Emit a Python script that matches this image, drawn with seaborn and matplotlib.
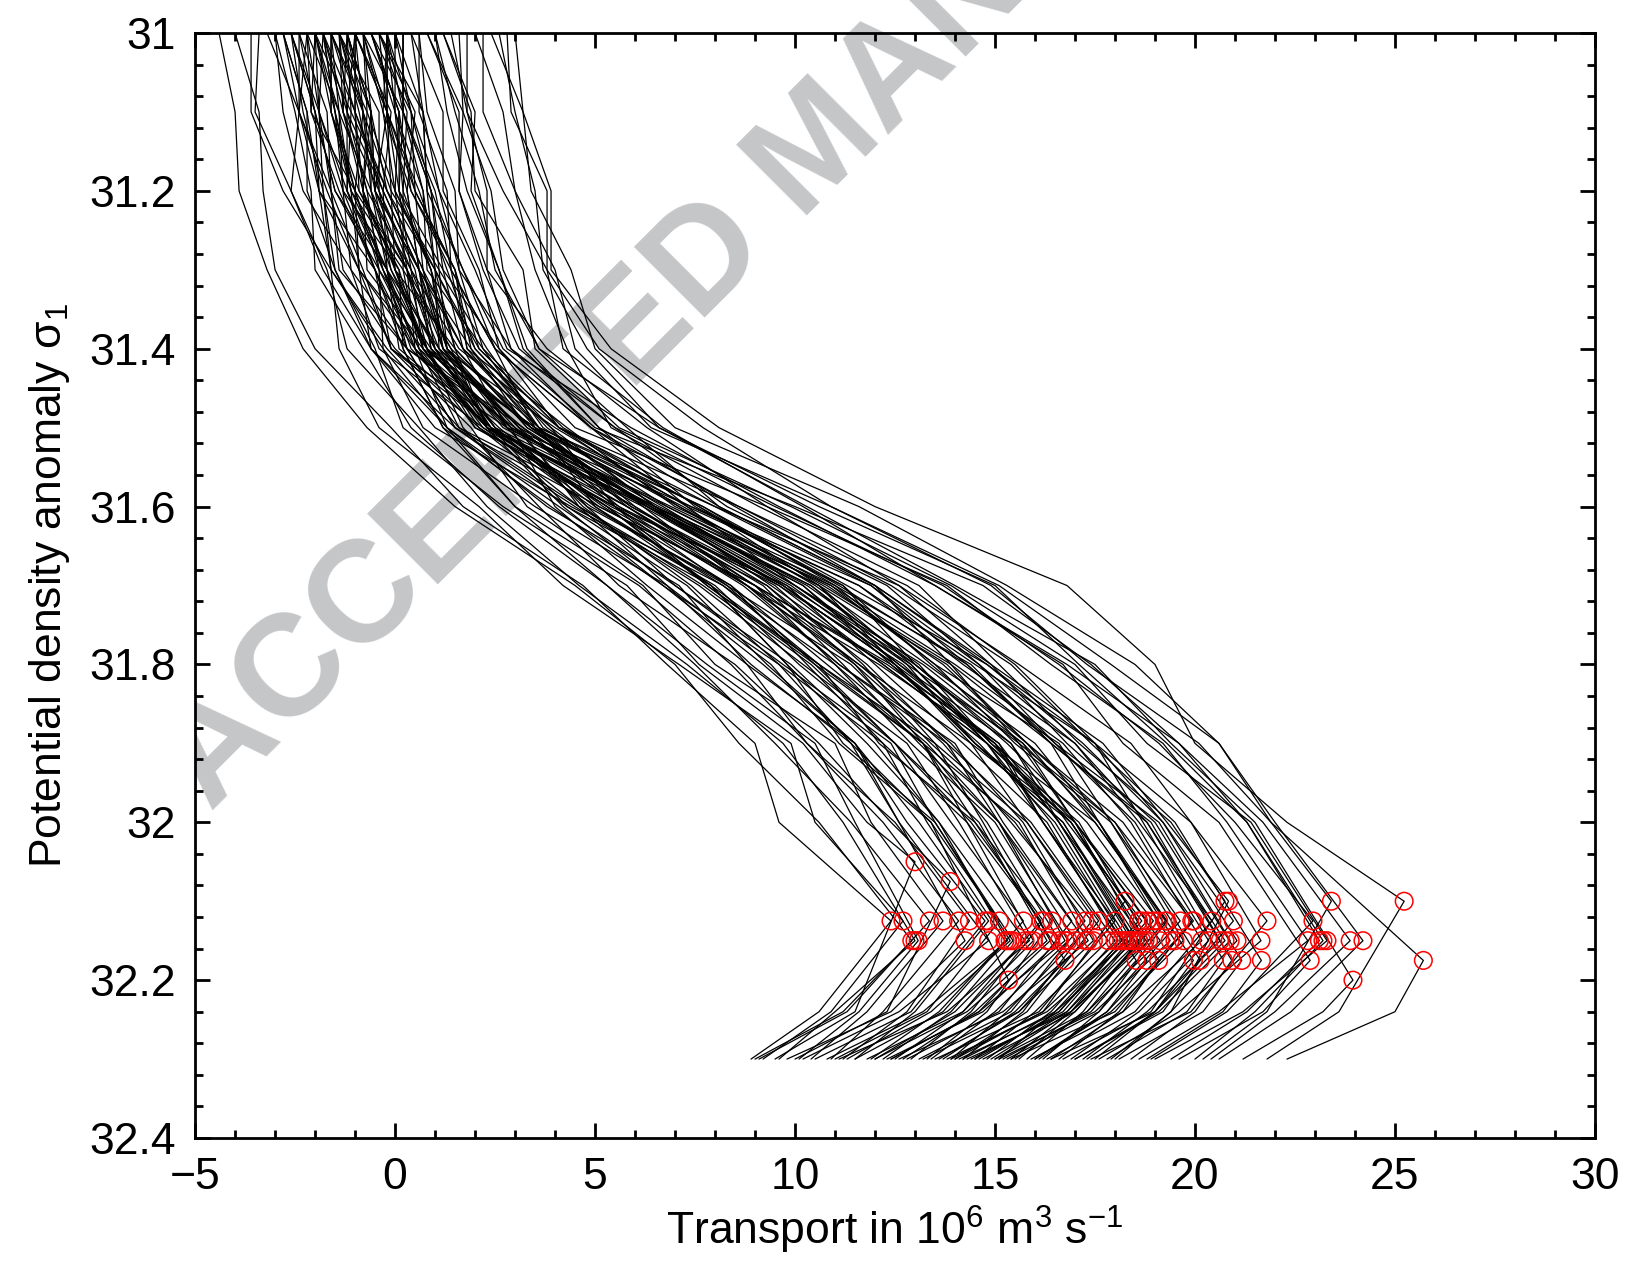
import matplotlib
matplotlib.use("Agg")
import matplotlib.pyplot as plt
from matplotlib.patches import Rectangle
from matplotlib.ticker import MultipleLocator, FuncFormatter
import pandas as pd
import seaborn as sns

# density levels of the profile nodes above the maximum and below it
upper_levels = [31.0, 31.1, 31.2, 31.3, 31.4, 31.5, 31.6, 31.7, 31.8, 31.9, 32.0]
lower_levels = [32.24, 32.3]

# transport (Sv) of each of the 103 profiles at those levels, ordered by maximum
t_310 = [-4.0, -3.6, -4.4, -2.6, -3.2, -1.8, -3.0, -2.2, -1.2, -2.8,
         -1.6, -0.6, -2.0, -1.0, -2.4, -1.4, -0.2, -1.8, -1.0, -2.6,
         0.4, -1.6, -0.8, -2.0, -1.2, -0.4, -2.2, -1.4, -2.8, 0.0,
         -1.0, -1.8, -0.6, -2.4, -1.2, -0.2, -1.6, -0.8, -2.0, 0.6,
         -1.4, -3.4, -0.6, -1.8, -1.0, -2.6, -0.2, -1.4, -3.0, -0.8,
         -1.6, -2.2, 0.2, -1.2, -2.0, -0.4, -1.6, -2.6, -1.0, 1.2,
         -1.8, -0.2, -2.4, -1.2, 0.8, -1.4, -0.6, -2.0, 0.0, -1.0,
         -2.8, -0.2, -1.6, 1.6, -0.8, -2.2, 0.4, -1.2, -0.4, -1.8,
         2.2, -0.8, 1.0, -2.0, 0.6, -1.4, 0.2, -1.0, 1.4, -0.6,
         0.2, -0.2, 1.8, 0.8, 2.6, 0.0, 1.2, 2.8, -0.4, 1.0,
         2.0, 3.0, 2.4]
t_311 = [-3.4, -3.6, -4.0, -2.3, -2.4, -1.9, -2.5, -2.4, -0.6, -2.4,
         -1.6, 0.1, -2.1, -0.2, -2.0, -0.8, -0.2, -1.2, -1.0, -2.0,
         0.7, -0.8, -0.7, -1.5, -1.3, 0.3, -1.9, -1.3, -2.2, 0.0,
         -0.1, -1.5, 0.0, -2.4, -0.6, -0.3, -1.0, -0.6, -1.1, 0.6,
         -0.9, -3.5, 0.1, -1.5, -0.8, -1.9, -0.2, -0.4, -2.8, -0.2,
         -1.6, -1.4, 0.2, -0.6, -1.6, 0.5, -1.4, -2.0, -1.2, 2.0,
         -1.3, 0.0, -1.7, -1.1, 1.7, -1.2, 0.1, -1.9, 0.7, -1.0,
         -2.2, 0.2, -0.7, 1.7, -0.3, -2.1, 1.2, -0.8, -0.2, -1.0,
         2.2, 0.2, 1.3, -1.4, 0.8, -0.6, 0.2, -0.2, 1.8, 0.4,
         0.2, 0.4, 1.8, 1.6, 3.0, 0.4, 1.9, 2.9, 0.7, 1.5,
         2.7, 3.2, 3.2]
t_312 = [-3.3, -2.8, -3.9, -1.8, -2.6, -1.3, -2.1, -1.6, -0.8, -1.9,
         -1.1, 0.1, -1.4, -0.5, -1.5, -0.6, 0.5, -1.2, -0.2, -1.9,
         1.1, -1.0, 0.0, -1.3, -0.4, 0.2, -1.6, -0.7, -2.2, 0.7,
         -0.3, -1.0, 0.2, -1.7, -0.6, 0.4, -0.8, -0.2, -1.2, 1.3,
         -0.5, -2.6, 0.0, -1.1, -0.1, -1.8, 0.6, -0.4, -2.3, -0.1,
         -0.9, -1.3, 0.9, -0.5, -1.0, 0.3, -0.6, -1.5, -0.3, 1.9,
         -0.8, 0.5, -1.6, -0.2, 1.6, -0.7, 0.4, -1.2, 0.8, -0.3,
         -1.9, 0.7, -0.8, 2.4, 0.0, -1.0, 1.2, -0.4, 0.3, -0.9,
         3.0, 0.1, 1.8, -1.1, 1.5, -0.5, 1.0, 0.1, 2.3, 0.5,
         0.9, 0.9, 2.7, 1.6, 3.5, 1.1, 2.0, 3.8, 0.8, 2.1,
         3.0, 3.9, 3.4]
t_313 = [-3.0, -1.6, -3.2, -1.5, -1.7, 0.1, -2.0, -0.8, -0.1, -0.9,
         -0.9, 0.9, -0.5, -0.1, -0.4, 0.0, 0.7, -0.2, 1.0, -1.6,
         1.6, -0.4, 0.9, -1.1, 0.5, 0.9, -1.3, 0.4, -1.5, 1.0,
         0.6, 0.3, 0.2, -0.9, -0.2, 1.4, -0.7, 0.7, -0.3, 1.4,
         0.6, -1.8, 0.3, -0.2, 1.1, -1.6, 1.3, 0.0, -1.1, 0.0,
         0.1, -0.5, 1.1, 0.6, -0.3, 0.6, 0.3, -0.2, -0.2, 2.6,
         -0.3, 1.5, -1.4, 0.7, 2.3, -0.4, 1.5, -0.5, 1.0, 0.6,
         -0.5, 0.8, 0.0, 2.7, 1.0, -0.9, 2.1, 0.4, 0.6, 0.3,
         3.5, 0.4, 2.6, 0.2, 1.6, 0.3, 1.4, 1.2, 2.3, 1.5,
         1.7, 1.2, 3.8, 2.2, 3.7, 2.0, 3.2, 3.8, 1.7, 2.5,
         4.0, 3.9, 4.4]
t_314 = [-2.0, -1.4, -2.3, -0.5, -1.2, 0.2, -0.8, -0.1, 0.8, -0.6,
         0.5, 1.3, 0.2, 1.0, -0.3, 0.7, 1.7, 0.3, 1.1, -0.3,
         2.2, 0.6, 1.2, 0.3, 0.9, 1.5, 0.0, 0.7, -0.6, 2.0,
         1.2, 0.5, 1.4, -0.1, 0.8, 1.8, 0.8, 1.2, 0.4, 2.5,
         0.9, -0.6, 1.4, 0.5, 1.3, -0.2, 2.0, 1.0, -0.4, 1.5,
         0.7, 0.3, 2.3, 1.0, 0.6, 1.7, 1.0, 0.1, 1.1, 3.3,
         0.8, 1.9, 0.3, 1.3, 2.9, 0.9, 1.8, 0.5, 2.1, 1.3,
         -0.1, 2.2, 0.8, 3.6, 1.5, 0.7, 2.6, 1.2, 1.9, 0.8,
         4.3, 1.6, 3.2, 0.6, 2.9, 1.1, 2.5, 1.7, 3.8, 2.1,
         2.5, 2.6, 4.2, 3.1, 4.8, 2.8, 3.5, 5.1, 2.7, 3.6,
         4.5, 5.4, 5.0]
t_315 = [-0.1, -0.4, -0.7, 0.2, 0.6, 1.2, 0.4, 1.9, 1.7, 1.3,
         1.3, 2.9, 1.2, 2.4, 0.7, 2.3, 2.8, 1.5, 3.1, 1.3,
         3.6, 1.6, 3.0, 1.5, 2.5, 2.3, 2.1, 2.2, 1.0, 3.9,
         2.5, 2.6, 2.3, 2.4, 2.1, 3.5, 2.0, 3.1, 2.3, 3.5,
         3.2, 1.5, 3.4, 2.0, 3.6, 1.6, 3.8, 2.3, 2.2, 3.3,
         2.4, 3.0, 3.7, 3.4, 2.3, 3.9, 2.7, 2.4, 2.4, 5.1,
         2.9, 3.3, 3.2, 3.1, 4.9, 2.5, 4.3, 2.3, 4.1, 2.8,
         2.8, 4.2, 2.8, 5.8, 3.4, 3.5, 4.1, 4.0, 3.6, 3.5,
         5.4, 4.1, 5.1, 2.9, 5.5, 3.4, 4.9, 3.6, 6.3, 4.1,
         4.9, 4.5, 6.7, 5.5, 6.6, 5.9, 5.6, 7.7, 5.0, 6.6,
         6.4, 8.1, 7.0]
t_316 = [1.7, 2.1, 1.5, 2.7, 2.3, 3.0, 2.6, 3.3, 3.6, 3.0,
         3.8, 4.0, 3.9, 4.3, 3.5, 4.2, 4.7, 4.3, 4.6, 4.1,
         5.0, 4.6, 4.8, 4.5, 4.8, 5.3, 4.6, 4.9, 4.4, 5.5,
         5.2, 5.1, 5.3, 5.0, 5.3, 5.8, 5.5, 5.5, 5.4, 6.2,
         5.6, 5.1, 5.9, 5.8, 6.0, 5.5, 6.5, 6.3, 5.6, 6.4,
         6.0, 5.9, 6.8, 6.3, 6.2, 6.5, 6.5, 5.8, 6.3, 7.5,
         6.4, 6.7, 6.3, 6.6, 7.3, 6.5, 7.0, 6.4, 7.1, 6.9,
         6.5, 7.6, 6.8, 8.1, 7.2, 7.1, 8.0, 7.3, 7.7, 7.4,
         9.1, 7.6, 8.5, 7.4, 8.3, 7.7, 8.1, 8.0, 9.3, 8.6,
         8.6, 9.3, 10.2, 9.5, 10.6, 9.6, 9.9, 10.9, 10.0, 10.3,
         10.9, 12.0, 11.6]
t_317 = [4.7, 4.2, 4.5, 5.8, 4.6, 5.3, 5.3, 6.2, 5.6, 6.1,
         7.1, 6.3, 6.7, 7.3, 6.8, 6.7, 7.4, 7.9, 6.8, 7.0,
         7.9, 8.0, 7.0, 7.6, 8.4, 7.8, 7.7, 8.3, 8.2, 7.8,
         8.4, 9.0, 7.9, 8.2, 8.8, 9.2, 8.3, 8.7, 9.3, 8.8,
         8.8, 9.0, 9.5, 8.8, 9.3, 9.8, 9.4, 9.7, 9.6, 10.2,
         9.0, 9.7, 10.6, 9.6, 9.7, 10.2, 10.4, 9.0, 9.9, 11.2,
         9.8, 10.0, 10.4, 10.6, 10.0, 10.3, 11.2, 10.0, 10.5, 11.0,
         10.9, 10.6, 10.8, 12.0, 10.7, 10.9, 11.9, 11.6, 11.0, 11.6,
         13.1, 11.1, 12.0, 11.9, 12.3, 11.3, 12.0, 12.6, 12.6, 12.4,
         12.8, 13.8, 13.5, 13.7, 15.0, 13.5, 13.9, 14.9, 14.7, 14.0,
         15.1, 16.8, 15.3]
t_318 = [6.8, 7.1, 7.0, 7.6, 7.3, 7.8, 7.5, 8.0, 8.5, 8.4,
         8.8, 8.8, 9.2, 9.3, 8.9, 9.6, 9.6, 9.8, 9.4, 9.7,
         9.8, 10.1, 9.9, 10.2, 10.3, 10.5, 10.4, 10.5, 10.6, 10.6,
         10.8, 11.0, 10.6, 11.0, 11.1, 11.2, 11.4, 11.1, 11.5, 11.5,
         11.6, 11.6, 11.7, 12.1, 11.8, 12.0, 12.2, 12.5, 12.2, 12.4,
         12.3, 12.5, 12.5, 12.7, 12.5, 12.6, 12.8, 12.4, 12.6, 13.0,
         12.9, 12.8, 13.0, 12.9, 13.0, 13.1, 13.4, 13.2, 13.3, 13.5,
         13.5, 13.8, 13.7, 13.9, 13.9, 14.0, 14.3, 14.2, 14.4, 14.5,
         15.1, 14.3, 14.9, 14.6, 14.6, 14.8, 14.8, 14.9, 15.6, 15.4,
         15.5, 16.4, 16.7, 16.6, 17.1, 16.8, 17.0, 17.3, 17.4, 17.5,
         17.9, 19.0, 18.5]
t_319 = [9.0, 9.9, 8.6, 10.2, 9.7, 10.5, 9.5, 11.0, 10.6, 10.3,
         11.5, 10.3, 11.5, 11.5, 11.4, 11.4, 12.2, 11.8, 11.1, 12.4,
         11.2, 12.5, 12.0, 12.8, 12.2, 13.2, 12.5, 12.5, 13.5, 12.1,
         13.2, 13.3, 13.2, 12.9, 14.0, 13.1, 13.4, 13.8, 13.2, 13.7,
         13.9, 14.4, 13.5, 15.0, 13.8, 14.2, 14.8, 14.4, 14.8, 14.6,
         15.1, 14.5, 15.1, 14.8, 14.5, 15.4, 14.5, 15.0, 15.0, 15.4,
         14.8, 15.7, 15.3, 14.9, 15.6, 14.9, 15.8, 15.7, 16.0, 15.5,
         16.6, 15.8, 15.8, 16.4, 15.6, 16.7, 16.5, 17.0, 16.4, 17.5,
         17.1, 16.4, 17.7, 16.5, 17.0, 17.2, 17.5, 16.8, 18.4, 17.4,
         17.5, 19.2, 18.2, 19.1, 19.3, 19.6, 18.8, 20.1, 19.6, 19.4,
         20.6, 20.0, 20.6]
t_320 = [9.6, 10.5, 10.6, 11.8, 11.2, 11.5, 11.4, 11.9, 12.4, 12.2,
         12.6, 12.5, 12.8, 13.1, 12.6, 13.4, 13.3, 13.6, 13.4, 13.5,
         13.5, 13.9, 13.6, 14.1, 14.3, 14.3, 14.4, 14.6, 14.7, 14.5,
         14.8, 15.1, 14.5, 15.0, 15.2, 15.1, 15.5, 15.1, 15.6, 15.4,
         15.7, 15.8, 15.8, 16.2, 15.9, 16.3, 16.2, 16.9, 16.4, 16.5,
         16.6, 16.7, 16.2, 16.9, 16.7, 16.8, 17.0, 16.6, 17.0, 16.6,
         17.1, 17.0, 17.3, 16.9, 17.0, 17.5, 17.5, 17.6, 17.6, 17.9,
         17.9, 18.0, 18.2, 17.6, 18.0, 18.4, 18.5, 18.6, 18.9, 18.7,
         19.4, 18.8, 19.3, 19.1, 18.8, 19.2, 19.2, 19.0, 19.9, 19.5,
         19.9, 20.8, 20.6, 21.0, 21.3, 21.3, 21.4, 21.9, 21.7, 21.5,
         22.0, 22.3, 21.9]
t_3224 = [10.6, 10.9, 11.2, 11.5, 11.0, 11.6, 11.3, 11.8, 12.3, 12.2,
          12.4, 12.8, 12.9, 13.0, 12.6, 13.3, 13.6, 13.2, 14.6, 13.4,
          13.9, 13.7, 14.0, 13.8, 14.2, 14.2, 14.4, 14.3, 14.5, 14.8,
          14.7, 14.6, 15.6, 15.0, 15.1, 15.3, 15.4, 15.5, 15.2, 15.7,
          15.6, 15.8, 16.0, 16.1, 16.4, 16.2, 16.5, 16.2, 16.6, 16.3,
          16.9, 16.5, 17.4, 16.6, 16.8, 16.7, 17.0, 16.9, 16.8, 17.8,
          16.9, 17.2, 17.0, 18.2, 17.3, 17.3, 17.6, 17.5, 17.8, 17.6,
          17.9, 18.1, 18.0, 19.0, 19.2, 18.2, 18.6, 18.5, 18.8, 19.8,
          18.9, 19.0, 19.4, 19.1, 20.0, 19.0, 19.4, 20.2, 19.6, 20.7,
          19.9, 20.6, 21.7, 20.8, 21.3, 21.5, 21.2, 21.8, 22.0, 23.2,
          22.4, 23.6, 25.0]
t_323 = [8.9, 9.2, 9.0, 9.5, 9.6, 10.1, 9.1, 10.4, 10.0, 10.9,
         9.8, 11.2, 10.5, 11.5, 10.2, 11.0, 11.9, 10.8, 12.4, 11.3,
         12.2, 11.5, 12.0, 11.1, 12.5, 11.8, 12.9, 12.0, 12.7, 13.3,
         12.3, 12.4, 13.6, 13.4, 12.8, 13.9, 13.1, 13.7, 12.6, 14.2,
         13.2, 14.0, 14.5, 13.5, 14.8, 13.9, 15.1, 14.0, 14.6, 13.8,
         15.4, 14.2, 15.2, 14.1, 14.9, 14.5, 15.6, 15.0, 14.4, 16.0,
         14.3, 15.8, 14.7, 16.4, 15.5, 15.0, 16.2, 15.1, 16.1, 15.3,
         16.0, 16.6, 15.4, 17.3, 17.0, 15.9, 16.9, 16.3, 17.2, 17.8,
         16.7, 17.5, 18.0, 17.0, 18.4, 16.4, 17.9, 18.1, 17.6, 18.8,
         17.4, 18.6, 19.6, 18.9, 19.4, 20.0, 19.0, 20.2, 20.4, 21.2,
         20.6, 21.8, 22.3]

# maximum transport of each profile and the density where it is reached
peak_x = [12.40, 12.70, 12.92, 13.00, 13.00, 13.08, 13.36, 13.70, 13.88, 14.09,
          14.25, 14.36, 14.75, 14.84, 14.84, 15.11, 15.25, 15.31, 15.34, 15.38,
          15.45, 15.71, 15.75, 15.86, 15.96, 16.15, 16.21, 16.30, 16.38, 16.42,
          16.61, 16.75, 16.75, 16.83, 16.92, 17.01, 17.25, 17.26, 17.33, 17.42,
          17.46, 17.59, 17.83, 18.00, 18.00, 18.08, 18.17, 18.25, 18.25, 18.33,
          18.42, 18.50, 18.53, 18.59, 18.59, 18.67, 18.67, 18.75, 18.80, 18.80,
          18.84, 18.96, 19.09, 19.09, 19.13, 19.26, 19.30, 19.38, 19.50, 19.63,
          19.71, 19.92, 19.96, 19.96, 20.13, 20.17, 20.34, 20.42, 20.63, 20.71,
          20.75, 20.75, 20.84, 20.88, 20.92, 20.96, 21.05, 21.17, 21.65, 21.66,
          21.80, 22.82, 22.88, 22.95, 23.11, 23.20, 23.30, 23.41, 23.88, 23.95,
          24.20, 25.23, 25.71]
peak_sigma = [32.125, 32.125, 32.15, 32.05, 32.15, 32.15, 32.125, 32.125, 32.075, 32.125,
              32.15, 32.125, 32.125, 32.125, 32.15, 32.125, 32.15, 32.15, 32.2, 32.15,
              32.15, 32.125, 32.15, 32.15, 32.15, 32.125, 32.125, 32.15, 32.15, 32.125,
              32.15, 32.15, 32.175, 32.15, 32.125, 32.15, 32.125, 32.15, 32.15, 32.125,
              32.15, 32.125, 32.15, 32.125, 32.15, 32.15, 32.15, 32.1, 32.15, 32.15,
              32.15, 32.15, 32.175, 32.125, 32.15, 32.125, 32.15, 32.15, 32.125, 32.175,
              32.15, 32.125, 32.125, 32.175, 32.15, 32.125, 32.125, 32.15, 32.15, 32.125,
              32.15, 32.125, 32.125, 32.175, 32.175, 32.15, 32.15, 32.125, 32.15, 32.175,
              32.1, 32.15, 32.1, 32.15, 32.175, 32.125, 32.15, 32.175, 32.15, 32.175,
              32.125, 32.15, 32.175, 32.125, 32.15, 32.15, 32.15, 32.1, 32.15, 32.2,
              32.15, 32.1, 32.175]

upper_cols = [t_310, t_311, t_312, t_313, t_314, t_315, t_316, t_317, t_318, t_319, t_320]
lower_cols = [t_3224, t_323]

rows = []
for i in range(len(peak_x)):
    for lev, col in zip(upper_levels, upper_cols):
        rows.append({"profile": i, "sigma": lev, "transport": col[i]})
    rows.append({"profile": i, "sigma": peak_sigma[i], "transport": peak_x[i]})
    for lev, col in zip(lower_levels, lower_cols):
        rows.append({"profile": i, "sigma": lev, "transport": col[i]})
df = pd.DataFrame(rows)

sns.set_theme(style="ticks")
plt.rcParams["font.family"] = ["Liberation Sans", "DejaVu Sans"]
plt.rcParams["mathtext.fontset"] = "custom"
plt.rcParams["mathtext.rm"] = "Liberation Sans"
plt.rcParams["mathtext.it"] = "Liberation Sans:italic"
plt.rcParams["axes.unicode_minus"] = True
plt.rcParams["text.color"] = "black"
plt.rcParams["axes.labelcolor"] = "black"
plt.rcParams["xtick.color"] = "black"
plt.rcParams["ytick.color"] = "black"

fig = plt.figure(figsize=(16.27, 12.66), dpi=100)
fig.patch.set_facecolor("white")
ax = fig.add_axes([0.1199, 0.1011, 0.8604, 0.8728])
ax.patch.set_visible(False)

# watermark of the journal proof, cut at the left frame line
wm = fig.text(0.1291, 0.3586, "ACCEPTED MANUSCRIPT", rotation=45, rotation_mode="anchor",
              ha="left", va="baseline", fontsize=104, fontweight="bold",
              color="#c5c6c8", zorder=-1)
wm.set_clip_path(Rectangle((0.1199, 0.0), 0.9, 1.0, transform=fig.transFigure))

sns.lineplot(data=df, x="transport", y="sigma", units="profile", estimator=None,
             sort=False, color="black", linewidth=0.9, ax=ax, legend=False)
sns.scatterplot(x=peak_x, y=peak_sigma, marker="o", s=160, facecolor="none",
                edgecolor="red", linewidth=1.1, ax=ax, legend=False, zorder=3)

ax.set_xlim(-5, 30)
ax.set_ylim(32.4, 31.0)
ax.xaxis.set_major_locator(MultipleLocator(5))
ax.xaxis.set_minor_locator(MultipleLocator(1))
ax.yaxis.set_major_locator(MultipleLocator(0.2))
ax.yaxis.set_minor_locator(MultipleLocator(0.04))
fmt = FuncFormatter(lambda v, p: f"{v:g}".replace("-", "\u2212"))
ax.xaxis.set_major_formatter(fmt)
ax.yaxis.set_major_formatter(fmt)

ax.tick_params(which="both", direction="in", top=True, right=True,
               width=2, color="black", labelcolor="black")
ax.tick_params(which="major", length=11, labelsize=32, pad=14)
ax.tick_params(which="minor", length=5.5)
for sp in ax.spines.values():
    sp.set_linewidth(2)
    sp.set_color("black")

ax.set_xlabel("Transport in 10$^6$ m$^3$ s$^{-1}$", fontsize=32, labelpad=4)
ax.set_ylabel("Potential density anomaly \u03c3$_1$", fontsize=32, labelpad=12)

fig.savefig("out.png", dpi=100, facecolor="white")
